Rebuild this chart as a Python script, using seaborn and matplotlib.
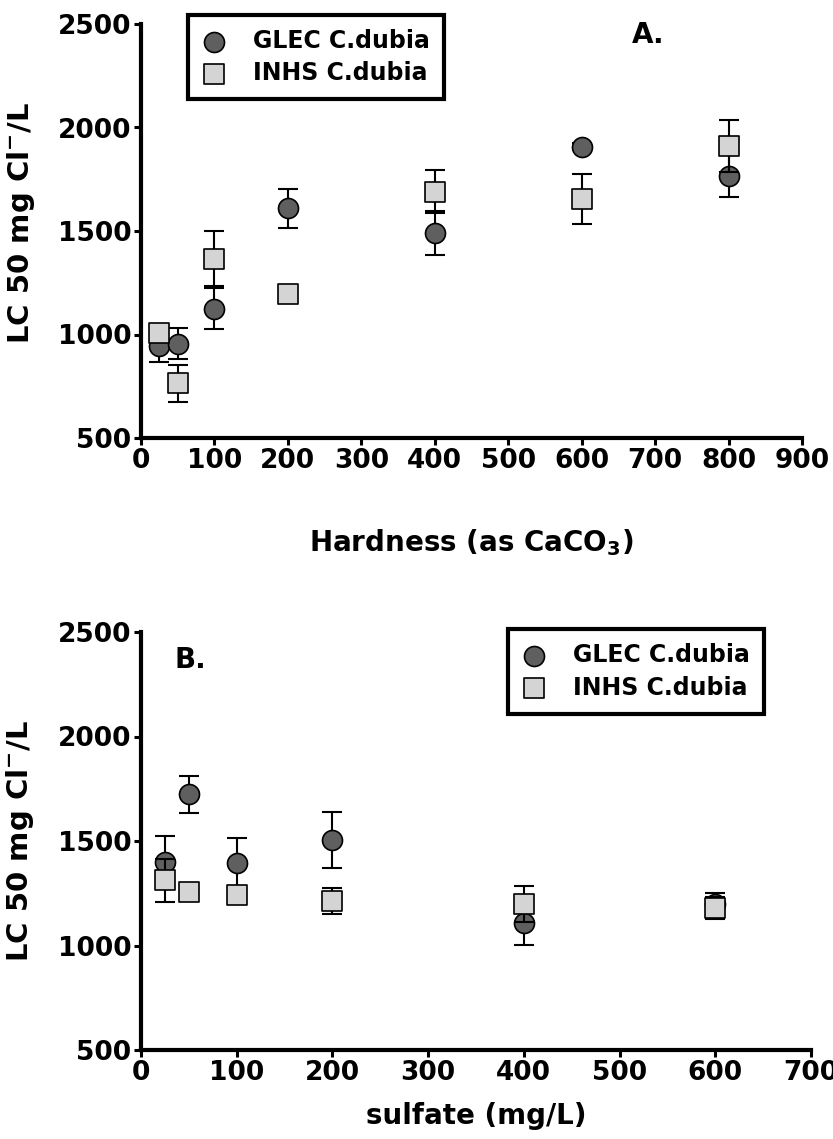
import matplotlib
matplotlib.use("Agg")
import matplotlib.pyplot as plt
import seaborn as sns
import pandas as pd

# ---- data ----
hardness = [25, 50, 100, 200, 400, 600, 800]
glec_a = [945, 955, 1125, 1610, 1490, 1908, 1767]
glec_a_err = [80, 75, 100, 95, 105, 15, 105]
inhs_a = [1005, 765, 1367, 1194, 1690, 1653, 1912]
inhs_a_err = [20, 90, 135, 20, 105, 120, 125]

sulfate = [25, 50, 100, 200, 400, 600]
glec_b = [1401, 1723, 1396, 1505, 1109, 1200]
glec_b_err = [123, 88, 120, 135, 105, 53]
inhs_b = [1313, 1257, 1242, 1214, 1199, 1178]
inhs_b_err = [103, 20, 20, 62, 85, 53]

series_names = ["GLEC C.dubia", "INHS C.dubia"]
y_ticks = [500, 1000, 1500, 2000, 2500]
x_ticks_a = [0, 100, 200, 300, 400, 500, 600, 700, 800, 900]
x_ticks_b = [0, 100, 200, 300, 400, 500, 600, 700]

sns.set_theme(style="white")
plt.rcParams["font.family"] = ["DejaVu Sans"]
plt.rcParams["font.weight"] = "bold"
plt.rcParams["text.color"] = "black"
plt.rcParams["axes.labelcolor"] = "black"
plt.rcParams["xtick.color"] = "black"
plt.rcParams["ytick.color"] = "black"
plt.rcParams["xtick.labelcolor"] = "black"
plt.rcParams["ytick.labelcolor"] = "black"
plt.rcParams["legend.labelcolor"] = "black"
plt.rcParams["mathtext.fontset"] = "custom"
plt.rcParams["mathtext.rm"] = "DejaVu Sans:bold"
plt.rcParams["mathtext.it"] = "DejaVu Sans:bold"
plt.rcParams["mathtext.bf"] = "DejaVu Sans:bold"
plt.rcParams["mathtext.default"] = "rm"

DARK = "#5f5f5f"
LIGHT = "#d4d4d4"
MS = 207

fig = plt.figure(figsize=(8.33, 11.39), dpi=100)
axA = fig.add_axes([141/833, 1 - 438/1139, 661/833, 414/1139])
axB = fig.add_axes([141/833, 1 - 1050/1139, 670/833, 418/1139])


def draw(ax, x, g, ge, i, ie):
    ax.errorbar(x, g, yerr=ge, fmt="none", ecolor="black", elinewidth=1.5,
                capsize=7, capthick=1.5, zorder=2)
    df_g = pd.DataFrame({"x": x, "y": g})
    sns.scatterplot(data=df_g, x="x", y="y", ax=ax, marker="o", color=DARK,
                    edgecolor="black", linewidth=1.2, s=MS, zorder=3,
                    label=series_names[0])
    ax.errorbar(x, i, yerr=ie, fmt="none", ecolor="black", elinewidth=1.5,
                capsize=7, capthick=1.5, zorder=4)
    df_i = pd.DataFrame({"x": x, "y": i})
    sns.scatterplot(data=df_i, x="x", y="y", ax=ax, marker="s", color=LIGHT,
                    edgecolor="black", linewidth=1.2, s=MS, zorder=5,
                    label=series_names[1])


def style(ax, xticks, xlim):
    ax.set_xlim(*xlim)
    ax.set_ylim(500, 2500)
    ax.set_xticks(xticks)
    ax.set_yticks(y_ticks)
    for s in ["top", "right"]:
        ax.spines[s].set_visible(False)
    for s in ["left", "bottom"]:
        ax.spines[s].set_linewidth(3)
        ax.spines[s].set_color("black")
    ax.tick_params(axis="both", direction="out", length=5, width=2.2,
                   color="black", labelcolor="black", labelsize=19, pad=2,
                   left=True, bottom=True)
    for lab in ax.get_xticklabels() + ax.get_yticklabels():
        lab.set_fontweight("bold")
    ax.set_ylabel(r"LC 50 mg Cl$^{-}$/L", fontsize=21, fontweight="bold",
                  color="black")


draw(axA, hardness, glec_a, glec_a_err, inhs_a, inhs_a_err)
draw(axB, sulfate, glec_b, glec_b_err, inhs_b, inhs_b_err)

style(axA, x_ticks_a, (0, 900))
style(axB, x_ticks_b, (0, 700))

axA.set_xlabel(r"Hardness (as CaCO$_3$)", fontsize=20, fontweight="bold",
               color="black")
axB.set_xlabel("sulfate (mg/L)", fontsize=20, fontweight="bold",
               color="black")
axA.xaxis.set_label_coords(0.5, -0.215)
axB.xaxis.set_label_coords(0.5, -0.125)
axA.yaxis.set_label_coords(-0.158, 0.52)
axB.yaxis.set_label_coords(-0.156, 0.5)

for ax, anchor in [(axA, (0.071, 1.022)), (axB, (0.548, 1.007))]:
    leg = ax.legend(loc="upper left", bbox_to_anchor=anchor, frameon=True,
                    fancybox=False, framealpha=1, edgecolor="black",
                    prop={"weight": "bold", "size": 17}, borderpad=0.6,
                    handlelength=1.0, handletextpad=1.16, labelspacing=0.35,
                    borderaxespad=0, labelcolor="black")
    leg.get_frame().set_linewidth(3)

fig.text(648/833, 1 - 35/1139, "A.", fontsize=20, fontweight="bold",
         ha="center", va="center", color="black")
fig.text(190/833, 1 - 660/1139, "B.", fontsize=20, fontweight="bold",
         ha="center", va="center", color="black")

fig.savefig("out.png", dpi=100)
